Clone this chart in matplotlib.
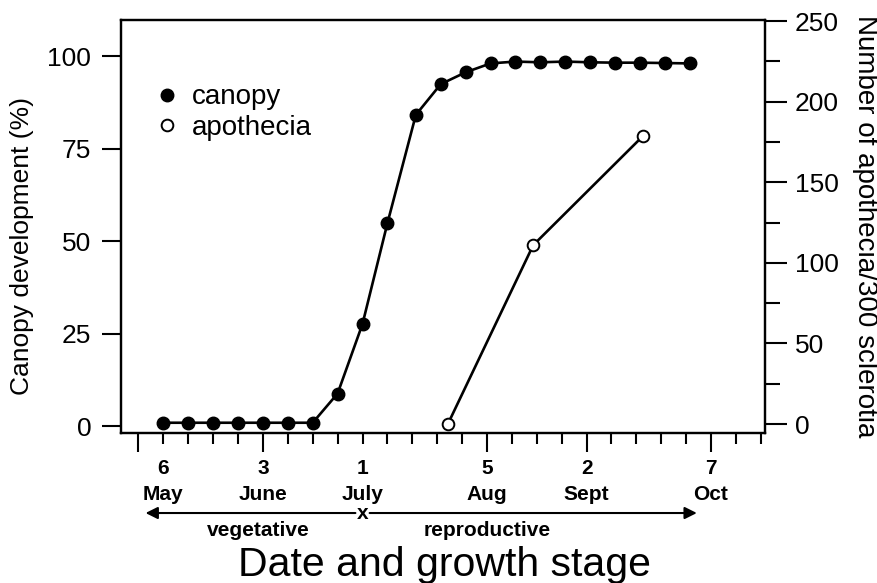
import matplotlib
matplotlib.use("Agg")
import matplotlib.pyplot as plt
from matplotlib.lines import Line2D
from matplotlib.transforms import blended_transform_factory

plt.rcParams["font.family"] = ["Liberation Sans", "DejaVu Sans"]

# x values are day of year
canopy_day = [126, 133, 140, 147, 154, 161, 168, 175, 182, 189, 197, 204,
              211, 218, 225, 232, 239, 246, 253, 260, 267, 274]
canopy_pct = [0.9, 0.9, 0.9, 0.9, 0.9, 0.9, 0.9, 8.8, 27.6, 54.8, 84.1, 92.4,
              95.6, 98.0, 98.5, 98.3, 98.5, 98.3, 98.2, 98.2, 98.1, 98.0]
apo_day = [206, 230, 261]
apo_count = [0, 111, 179]

week_ticks = list(range(119, 295, 7))  # weekly, from 29 Apr
long_ticks = [119, 154, 217, 245, 280]
date_pos = [126, 154, 182, 217, 245, 280]
date_day = ["6", "3", "1", "5", "2", "7"]
date_month = ["May", "June", "July", "Aug", "Sept", "Oct"]

stage_split = 182
veg_arrow = (180, 121)
rep_arrow = (184, 276)

fig = plt.figure(figsize=(8.77, 5.83), dpi=100)
ax = fig.add_axes([0.138, 0.258, 0.734, 0.7075])
ax2 = ax.twinx()

ax.plot(canopy_day, canopy_pct, color="k", lw=1.9, marker="o", ms=9,
        mfc="k", mec="k", clip_on=False, zorder=3)
ax2.plot(apo_day, apo_count, color="k", lw=1.9, marker="o", ms=8.4,
         mfc="white", mec="k", mew=1.4, clip_on=False, zorder=3)

ax.set_xlim(114.1, 295.1)
ax.set_ylim(-1.76, 109.7)
ax2.set_ylim(-5.3, 250.6)

ax.set_xticks(long_ticks)
ax.set_xticks([t for t in week_ticks if t not in long_ticks], minor=True)
ax.tick_params(axis="x", which="major", length=13.5, width=1.5, labelbottom=False)
ax.tick_params(axis="x", which="minor", length=8, width=1.5)
ax.set_yticks([0, 25, 50, 75, 100])
ax.tick_params(axis="y", length=13.5, width=1.5, pad=8, labelsize=19)

ax2.set_yticks([0, 50, 100, 150, 200, 250])
ax2.set_yticks([25, 75, 125, 175, 225], minor=True)
ax2.tick_params(axis="y", which="major", length=15.5, width=1.5, pad=6, labelsize=19)
ax2.tick_params(axis="y", which="minor", length=10.5, width=1.5)

for a in (ax, ax2):
    for s in a.spines.values():
        s.set_linewidth(1.6)

ax.set_ylabel("Canopy development (%)", fontsize=19, va="center")
ax.yaxis.set_label_coords(-0.154, 0.453)
ax2.set_ylabel("Number of apothecia/300 sclerotia", fontsize=20, rotation=270, va="center")
ax2.yaxis.set_label_coords(1.155, 0.5)

trans = blended_transform_factory(ax.transData, ax.transAxes)
for x, d, m in zip(date_pos, date_day, date_month):
    ax.text(x, -0.088, d, transform=trans, ha="center", va="center",
            fontsize=15, fontweight="bold")
    ax.text(x, -0.149, m, transform=trans, ha="center", va="center",
            fontsize=15, fontweight="bold")

arrow_kw = dict(arrowstyle="-|>", lw=1.5, color="k", mutation_scale=18,
                shrinkA=0, shrinkB=0)
ax.annotate("", xy=(veg_arrow[1], -0.195), xytext=(veg_arrow[0], -0.195),
            xycoords=trans, textcoords=trans, arrowprops=arrow_kw, annotation_clip=False)
ax.annotate("", xy=(rep_arrow[1], -0.195), xytext=(rep_arrow[0], -0.195),
            xycoords=trans, textcoords=trans, arrowprops=arrow_kw, annotation_clip=False)
ax.text(stage_split, -0.197, "x", transform=trans, ha="center", va="center",
        fontsize=15, fontweight="bold")
ax.text(152.6, -0.238, "vegetative", transform=trans, ha="center", va="center",
        fontsize=15, fontweight="bold")
ax.text(217, -0.238, "reproductive", transform=trans, ha="center", va="center",
        fontsize=15, fontweight="bold")

fig.text(0.5074, 0.031, "Date and growth stage", ha="center", va="center", fontsize=29.5)

handles = [Line2D([], [], ls="none", marker="o", ms=9, mfc="k", mec="k"),
           Line2D([], [], ls="none", marker="o", ms=8.4, mfc="white", mec="k", mew=1.4)]
ax2.legend(handles, ["canopy", "apothecia"], loc="center left",
           bbox_to_anchor=(0.054, 0.776), frameon=False, fontsize=20,
           handlelength=0.8, handletextpad=0.5, borderpad=0, borderaxespad=0,
           labelspacing=0.15)

fig.savefig("out.png", dpi=100)
